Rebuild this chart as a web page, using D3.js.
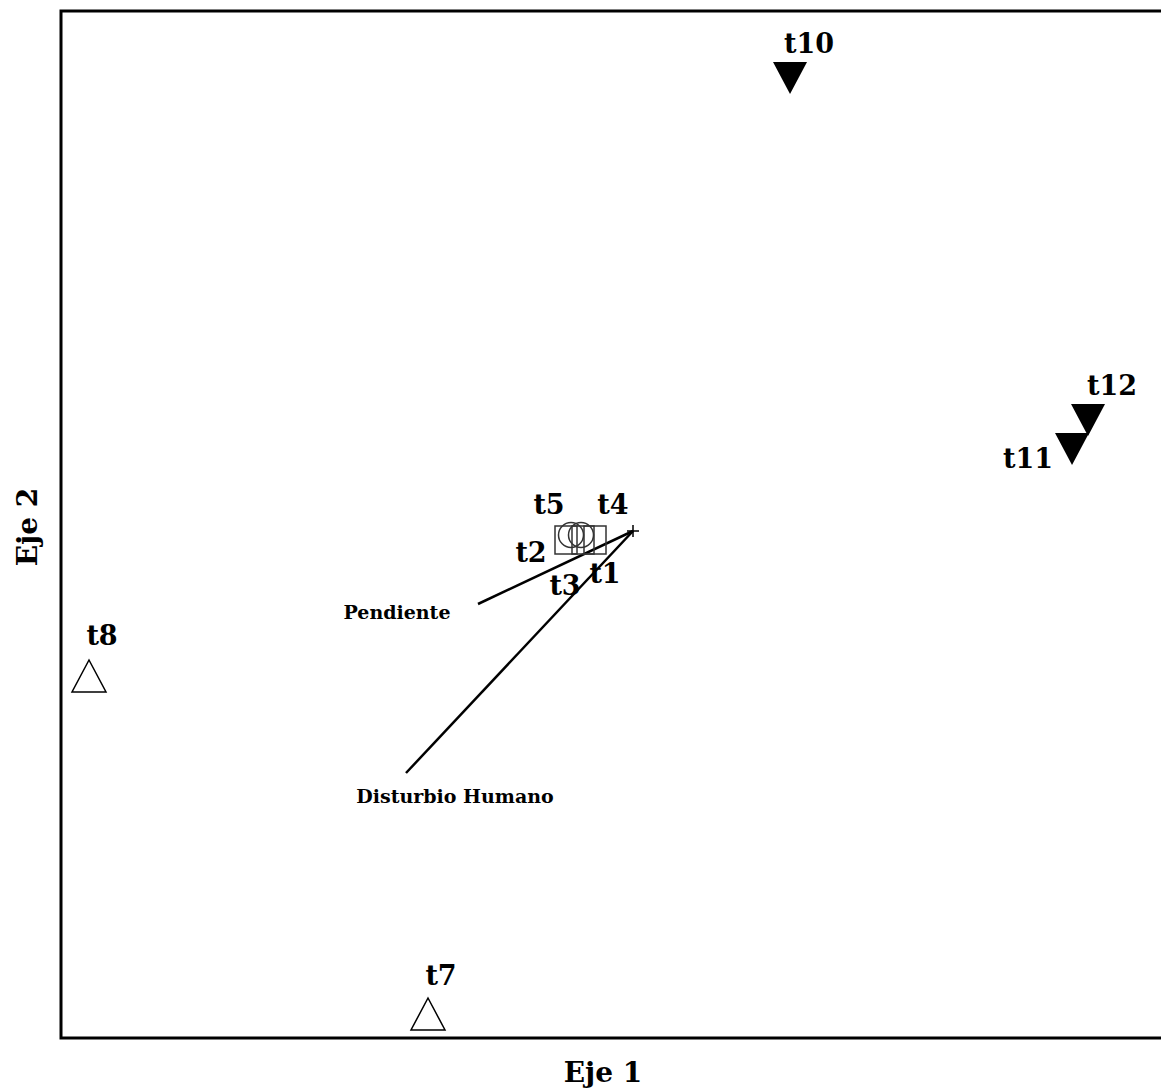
<!DOCTYPE html>
<html>
  <head>
    <meta charset="UTF-8">
    <title>Ordenacion</title>
    <script src="https://d3js.org/d3.v7.min.js"></script>
    <style>
    body { margin: 0; background: #fff; }
    .site text { font: bold 27px "DejaVu Serif", serif; }
    .vec text { font: bold 19px "DejaVu Serif", serif; }
    .axis-title { font: bold 28px "DejaVu Serif", serif; }
    </style>
  </head>
  <body>
  <script type="text/javascript">

  // sitios (ejes 1 y 2)
  var siteNames = ['t1', 't2', 't3', 't4', 't5', 't7', 't8', 't10', 't11', 't12']
  var eje1 = [-0.19, -0.335, -0.25, -0.26, -0.31, -1.025, -2.72, 0.785, 2.195, 2.275]
  var eje2 = [-0.045, -0.045, -0.045, -0.02, -0.02, -2.415, -0.725, 2.265, 0.41, 0.555]
  var grupo = ['square', 'square', 'square', 'circle', 'circle', 'open', 'open', 'filled', 'filled', 'filled']

  // variables ambientales (vectores desde el origen)
  var vecNames = ['Pendiente', 'Disturbio Humano']
  var vecEje1 = [-0.775, -1.135]
  var vecEje2 = [-0.365, -1.21]

  var W = 1161, H = 1091

  var svg = d3.select('body')
    .append('svg')
    .attr('width', W)
    .attr('height', H)

  var x = d3.scaleLinear().domain([-2.86, 2.71]).range([61, 1175])
  var y = d3.scaleLinear().domain([-2.535, 2.6]).range([1038, 11])

  // marco
  svg.append('rect')
    .attr('x', x(-2.86)).attr('y', y(2.6))
    .attr('width', x(2.71) - x(-2.86)).attr('height', y(-2.535) - y(2.6))
    .attr('fill', 'none').attr('stroke', '#000').attr('stroke-width', 3)

  // label offsets (px) relative to each marker
  var labelOff = {
    t1: [10, 43], t2: [-35, 22], t3: [-18, 55], t4: [32, -21], t5: [-22, -21],
    t7: [13, -29], t8: [13, -31], t10: [19, -25], t11: [-44, 19], t12: [24, -25]
  }
  var vecLabelOff = { 'Pendiente': [-81, 15], 'Disturbio Humano': [49, 30] }

  var sites = siteNames.map((n, i) => ({ id: n, x: eje1[i], y: eje2[i], g: grupo[i] }))

  // vectores
  var vecs = vecNames.map((n, i) => ({ id: n, x: vecEje1[i], y: vecEje2[i] }))
  var vg = svg.append('g').attr('class', 'vec')
  vg.selectAll('line')
    .data(vecs)
    .enter().append('line')
      .attr('x1', x(0)).attr('y1', y(0))
      .attr('x2', d => x(d.x)).attr('y2', d => y(d.y))
      .attr('stroke', '#000').attr('stroke-width', 2.5)
  vg.selectAll('text')
    .data(vecs)
    .enter().append('text')
      .attr('x', d => x(d.x) + vecLabelOff[d.id][0])
      .attr('y', d => y(d.y) + vecLabelOff[d.id][1])
      .attr('text-anchor', 'middle')
      .text(d => d.id)

  // origen
  svg.append('path')
    .attr('d', 'M' + (x(0) - 6) + ',' + y(0) + 'h12M' + x(0) + ',' + (y(0) - 6) + 'v12')
    .attr('stroke', '#000').attr('stroke-width', 1.5)

  var tri = function (up) {
    var h = 16, w = 17
    return up ? 'M0,' + (-h) + 'L' + w + ',' + h + 'L' + (-w) + ',' + h + 'Z'
              : 'M' + (-w) + ',' + (-h) + 'L' + w + ',' + (-h) + 'L0,' + h + 'Z'
  }

  var node = svg.selectAll('.site')
    .data(sites)
    .enter().append('g')
      .attr('class', 'site')
      .attr('transform', d => 'translate(' + x(d.x) + ',' + y(d.y) + ')')

  node.filter(d => d.g == 'square').append('rect')
    .attr('x', -11).attr('y', -14).attr('width', 22).attr('height', 28)
    .attr('fill', 'none').attr('stroke', '#333').attr('stroke-width', 1.5)
  node.filter(d => d.g == 'circle').append('circle')
    .attr('r', 12.5)
    .attr('fill', 'none').attr('stroke', '#333').attr('stroke-width', 1.5)
  node.filter(d => d.g == 'open').append('path')
    .attr('d', tri(true))
    .attr('fill', '#fff').attr('stroke', '#000').attr('stroke-width', 1.5)
  node.filter(d => d.g == 'filled').append('path')
    .attr('d', tri(false))
    .attr('fill', '#000')

  node.append('text')
    .attr('x', d => labelOff[d.id][0])
    .attr('y', d => labelOff[d.id][1])
    .attr('text-anchor', 'middle')
    .text(d => d.id)

  // titulos de ejes
  svg.append('text')
    .attr('class', 'axis-title')
    .attr('x', 603).attr('y', 1082)
    .attr('text-anchor', 'middle')
    .text('Eje 1')

  svg.append('text')
    .attr('class', 'axis-title')
    .attr('transform', 'translate(37,527) rotate(-90)')
    .attr('text-anchor', 'middle')
    .text('Eje 2')

  </script>
  </body>
</html>
